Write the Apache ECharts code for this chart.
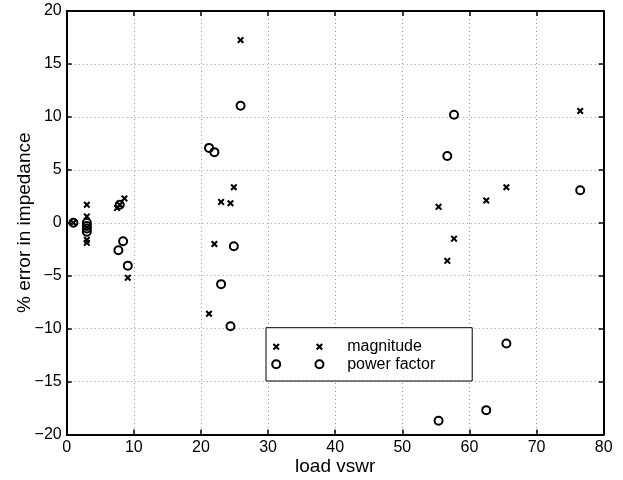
<!DOCTYPE html>
<html>
<head>
<meta charset="utf-8">
<script src="https://cdn.jsdelivr.net/npm/echarts@6/dist/echarts.min.js"></script>
<style>html,body{margin:0;padding:0;background:#fff}#c{width:623px;height:480px}</style>
</head>
<body>
<div id="c"></div>
<script>
// ---- data ----
var xTicks = [0, 10, 20, 30, 40, 50, 60, 70, 80];
var yTicks = [-20, -15, -10, -5, 0, 5, 10, 15, 20];
var magnitudeX = [1, 3, 3, 3, 3, 7.5, 7.9, 8.6, 9.1, 21.2, 22.0, 23.0, 24.4, 24.9, 25.9, 55.4, 56.7, 57.7, 62.5, 65.5, 76.5];
var magnitudeY = [0, 1.7, 0.6, -1.6, -1.9, 1.4, 1.7, 2.3, -5.2, -8.6, -2.0, 1.97, 1.85, 3.35, 17.25, 1.5, -3.6, -1.5, 2.1, 3.35, 10.55];
var powerFactorX = [1, 3, 3, 3, 3, 7.7, 7.9, 8.4, 9.1, 21.2, 22.0, 23.0, 24.4, 24.9, 25.9, 55.4, 56.7, 57.7, 62.5, 65.5, 76.5];
var powerFactorY = [0, 0, -0.3, -0.55, -0.85, -2.6, 1.7, -1.75, -4.05, 7.07, 6.67, -5.8, -9.77, -2.22, 11.05, -18.7, 6.3, 10.2, -17.7, -11.4, 3.07];
var seriesNames = ['magnitude', 'power factor'];
var xName = 'load vswr';
var yName = '% error in impedance';

function zip(a, b) { return a.map(function (v, i) { return [v, b[i]]; }); }
function minus(v) { return String(v).replace('-', '\u2212'); }

// ---- marker shapes ----
function crossPath(cx, cy, s) { // thick X, s = half size
  var t = s * 0.42;
  var p = [[-s, -s + t], [-s + t, -s], [0, -t], [s - t, -s], [s, -s + t], [t, 0], [s, s - t], [s - t, s], [0, t], [-s + t, s], [-s, s - t], [-t, 0]];
  return 'M' + p.map(function (q) { return (cx + q[0]).toFixed(2) + ',' + (cy + q[1]).toFixed(2); }).join('L') + 'Z';
}
function ringPath(cx, cy, r, ri) {
  return 'M' + (cx + r) + ',' + cy + 'A' + r + ',' + r + ' 0 1,0 ' + (cx - r) + ',' + cy + 'A' + r + ',' + r + ' 0 1,0 ' + (cx + r) + ',' + cy + 'Z' +
    'M' + (cx + ri) + ',' + cy + 'A' + ri + ',' + ri + ' 0 1,1 ' + (cx - ri) + ',' + cy + 'A' + ri + ',' + ri + ' 0 1,1 ' + (cx + ri) + ',' + cy + 'Z';
}
function dot(x, y) { return 'M' + x + ',' + y + 'L' + (x + 0.01) + ',' + y + 'L' + x + ',' + (y + 0.01) + 'Z'; }

var crossSymbol = 'path://' + crossPath(5, 5, 5);
var ringSymbol = 'path://' + ringPath(5, 5, 5, 3.0);
var legendCross = 'path://' + dot(0, 0) + crossPath(5, 5, 3.5) + crossPath(48.3, 5, 3.5) + dot(71, 10);
var legendRing = 'path://' + dot(0, 0) + ringPath(5, 5, 5, 3.0) + ringPath(48.3, 5, 5, 3.0) + dot(71, 10);

var FONT = 'Liberation Sans, Arial, Helvetica, sans-serif';
var chart = echarts.init(document.getElementById('c'), null, { renderer: 'canvas' });

var axisLine = { show: true, onZero: false, lineStyle: { color: '#000', width: 2 } };
var tick = { show: true, inside: true, length: 5, lineStyle: { color: '#000', width: 1.5 } };
var grid = { show: true, lineStyle: { color: '#9a9a9a', width: 1, type: [1, 3] } };

chart.setOption({
  animation: false,
  backgroundColor: '#fff',
  grid: { left: 66.7, right: 19.3, top: 11, bottom: 45.5, containLabel: false, outerBoundsMode: 'none' },
  xAxis: [{
    type: 'value', min: xTicks[0], max: xTicks[xTicks.length - 1], interval: 10,
    name: xName, nameLocation: 'middle', nameGap: 23, nameMoveOverlap: false,
    nameTextStyle: { fontSize: 19, fontFamily: FONT, color: '#000' },
    axisLine: axisLine, axisTick: tick, splitLine: grid,
    axisLabel: { fontSize: 16, fontFamily: FONT, color: '#000', margin: 5, formatter: minus }
  }, {
    type: 'value', position: 'top', min: xTicks[0], max: xTicks[xTicks.length - 1], interval: 10,
    axisLine: axisLine, axisTick: tick, splitLine: { show: false }, axisLabel: { show: false }
  }],
  yAxis: [{
    type: 'value', min: yTicks[0], max: yTicks[yTicks.length - 1], interval: 5,
    name: yName, nameLocation: 'middle', nameGap: 32, nameMoveOverlap: false,
    nameTextStyle: { fontSize: 19, fontFamily: FONT, color: '#000' },
    axisLine: axisLine, axisTick: tick, splitLine: grid,
    axisLabel: { fontSize: 16, fontFamily: FONT, color: '#000', margin: 5, formatter: minus }
  }, {
    type: 'value', position: 'right', min: yTicks[0], max: yTicks[yTicks.length - 1], interval: 5,
    axisLine: axisLine, axisTick: tick, splitLine: { show: false }, axisLabel: { show: false }
  }],
  legend: {
    left: 266, top: 327.7, orient: 'vertical',
    itemWidth: 71, itemHeight: 10, itemGap: 0.6,
    padding: [10.5, 37, 8.2, 5.2],
    borderColor: '#000', borderWidth: 1, backgroundColor: '#fff',
    selectedMode: false,
    textStyle: { fontSize: 16, fontFamily: FONT, color: '#000', lineHeight: 17 },
    data: [
      { name: seriesNames[0], icon: legendCross },
      { name: seriesNames[1], icon: legendRing }
    ]
  },
  series: [{
    name: seriesNames[0], type: 'scatter', data: zip(magnitudeX, magnitudeY),
    symbol: crossSymbol, symbolSize: 7, itemStyle: { color: '#000', opacity: 1 }, z: 3
  }, {
    name: seriesNames[1], type: 'scatter', data: zip(powerFactorX, powerFactorY),
    symbol: ringSymbol, symbolSize: 10, itemStyle: { color: '#000', opacity: 1 }, z: 2
  }]
});
</script>
</body>
</html>
